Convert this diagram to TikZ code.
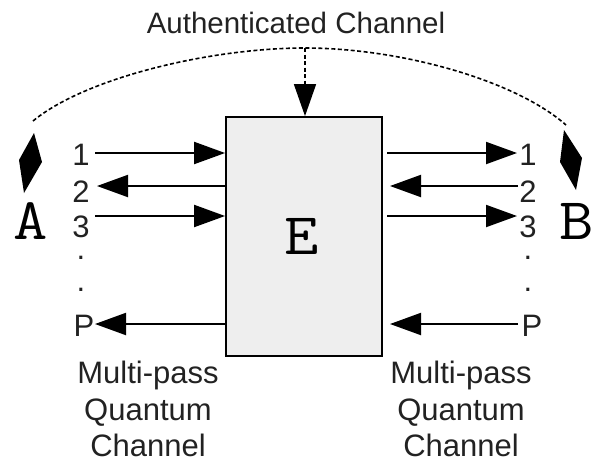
\documentclass[tikz,border=0pt]{standalone}
\usepackage{fontspec}
\setmainfont{Liberation Sans}
\usetikzlibrary{arrows.meta}
\definecolor{txt}{HTML}{222222}
\definecolor{boxfill}{HTML}{EEEEEE}
\newcommand{\widen}[1]{\scalebox{1.13}[1]{#1}}
\begin{document}
\begin{tikzpicture}[x=1pt,y=-1pt,
  lab/.style={font=\fontsize{31}{31}\selectfont, text=txt, inner sep=0pt, anchor=base},
  ttl/.style={font=\fontsize{29.5}{29.5}\selectfont, text=txt, inner sep=0pt, anchor=base},
  big/.style={font=\fontsize{59}{59}\selectfont\ttfamily, inner sep=0pt},
  arr/.style={line width=2pt, -{Triangle[length=31pt,width=22pt]}},
  dsh/.style={line width=1.6pt, dash pattern=on 4pt off 2.5pt},
  ebox/.style={draw, line width=1.8pt, fill=boxfill, minimum width=156pt, minimum height=239pt, inner sep=0pt}]
\useasboundingbox (0,0) rectangle (593,458);
% box
\node[ebox] (box) at (304,236.5) {};
\node[big] (E) at (302,236) {\widen{E}};
\node[big] (A) at (30.5,221) {\widen{A}};
\node[big] (B) at (577,221) {\widen{B}};
% title and authenticated channel
\node[ttl] (title) at (296,33) {Authenticated Channel};
\coordinate (top) at (305,48);
\coordinate (arcL) at (33,121);
\coordinate (arcR) at (566,125);
\draw[dsh] (arcL) .. controls (85,78) and (210,48) .. (top) .. controls (400,48) and (515,80) .. (arcR);
\draw[dsh, -{Triangle[length=32pt,width=22pt]}] (top) -- (top |- box.north);
% diamonds
\fill (34,133) -- (42,162) -- (24,193) -- (19,160) -- cycle;
\fill (564,130) -- (582,158) -- (576,190) -- (560,162) -- cycle;
% left labels
\node[lab] (L1) at (81,165) {1};
\node[lab] (L2) at (81,202) {2};
\node[lab] (L3) at (81,237) {3};
\node[lab] (Ld1) at (81,259) {.};
\node[lab] (Ld2) at (81,291) {.};
\node[lab] (LP) at (84,336) {P};
% right labels
\node[lab] (R1) at (528,165) {1};
\node[lab] (R2) at (528,202) {2};
\node[lab] (R3) at (528,237) {3};
\node[lab] (Rd1) at (528,259) {.};
\node[lab] (Rd2) at (528,291) {.};
\node[lab] (RP) at (532,336) {P};
% left arrows
\coordinate (l1) at (95,153);
\coordinate (l2) at (97,186);
\coordinate (l3) at (95,216);
\coordinate (lP) at (95,324);
\draw[arr] (l1) -- (l1 -| box.west);
\draw[arr] (l2 -| box.west) -- (l2);
\draw[arr] (l3) -- (l3 -| box.west);
\draw[arr] (lP -| box.west) -- (lP);
% right arrows
\coordinate (r1s) at (387,153); \coordinate (r1e) at (517,153);
\coordinate (r2s) at (518,186); \coordinate (r2e) at (390,186);
\coordinate (r3s) at (387,216); \coordinate (r3e) at (517,216);
\coordinate (rPs) at (518,324); \coordinate (rPe) at (390,324);
\draw[arr] (r1s) -- (r1e);
\draw[arr] (r2s) -- (r2e);
\draw[arr] (r3s) -- (r3e);
\draw[arr] (rPs) -- (rPe);
% channel captions
\node[lab] (mL1) at (148,383) {Multi-pass};
\node[lab] (mL2) at (148,420) {Quantum};
\node[lab] (mL3) at (148,456.5) {Channel};
\node[lab] (mR1) at (461,383) {Multi-pass};
\node[lab] (mR2) at (461,420) {Quantum};
\node[lab] (mR3) at (461,456.5) {Channel};
\end{tikzpicture}
\end{document}
